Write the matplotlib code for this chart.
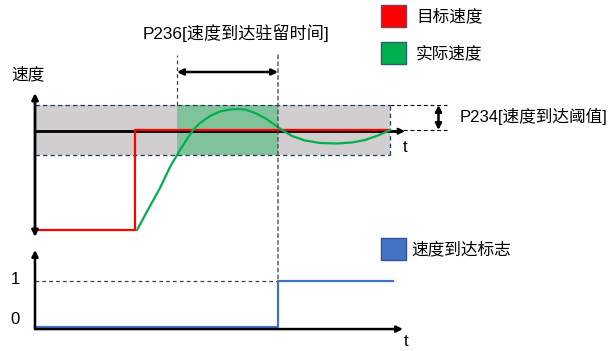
import matplotlib
matplotlib.use("Agg")
import matplotlib.pyplot as plt
import matplotlib.transforms as mtransforms
from matplotlib.patches import Rectangle, ConnectionPatch

plt.rcParams['font.family'] = ['Liberation Sans', 'Noto Sans CJK SC', 'DejaVu Sans']

# ---------------- data ----------------
# target speed (step command)
target_t = [0.0, 10.0, 10.0, 35.5]
target_v = [0.0, 0.0, 1.0, 1.0]

# actual speed response
actual_t = [10.2, 11.5, 12.5, 13.5, 14.5, 15.2, 15.8, 16.5, 17.5, 18.5, 19.5,
            20.2, 21.0, 22.0, 23.0, 24.0, 24.7, 25.7, 27.0, 28.5, 30.2, 31.7,
            33.0, 34.3, 35.5]
actual_v = [0.00, 0.24, 0.42, 0.63, 0.80, 0.91, 1.00, 1.07, 1.14, 1.185, 1.205,
            1.21, 1.205, 1.17, 1.12, 1.05, 1.00, 0.94, 0.895, 0.87, 0.865, 0.875,
            0.90, 0.945, 1.00]

target_speed = 1.0
threshold = 0.25          # P234 speed-reached threshold
dwell_start = 14.2        # entering the threshold band
dwell_end = 24.3          # after P236 dwell time
band_end = 35.5

# speed-reached flag
flag_t = [0.0, 24.3, 24.3, 35.8]
flag_v = [0, 0, 1, 1]
flag_ticks = [0, 1]

legend_labels = ['目标速度', '实际速度', '速度到达标志']
axis_label = '速度'
dwell_label = 'P236[速度到达驻留时间]'
threshold_label = 'P234[速度到达阈值]'

# ---------------- style ----------------
RED = '#FF0000'
GREEN = '#00B050'
BLUE = '#4472C4'
GRAY_BAND = '#D0CECE'
GREEN_BAND = '#80C39B'
NAVY_DASH = '#203864'
DASH_GRAY = '#404040'
FS = 12

W, H = 611, 351
fig = plt.figure(figsize=(W / 100, H / 100), dpi=100)

# top panel: x_px = 35 + 10 t, y_px = 230 - 100 v
ax = fig.add_axes([0, 0, 1, 1])
ax.set_xlim(-3.5, (W - 35) / 10)
ax.set_ylim((230 - H) / 100, 230 / 100)
# bottom panel: same time scale, y_px = 327 - 46 f
axb = fig.add_axes([0, 0, 1, 1])
axb.set_xlim(-3.5, (W - 35) / 10)
axb.set_ylim((327 - H) / 46, 327 / 46)
for a in (ax, axb):
    a.axis('off')
    a.patch.set_alpha(0)


def px(x, y):
    return x / W, 1 - y / H


def arrow(a, start, tip, style='-|>', lw=1.8, ms=10, color='k', z=5):
    a.annotate('', xy=tip, xytext=start,
               arrowprops=dict(arrowstyle=style, lw=lw, color=color,
                               mutation_scale=ms, shrinkA=0, shrinkB=0),
               zorder=z)


band_lo = target_speed - threshold
band_hi = target_speed + threshold

# threshold band and dwell window
ax.add_patch(Rectangle((0, band_lo), band_end, band_hi - band_lo,
                       facecolor=GRAY_BAND, edgecolor='none', zorder=1))
ax.add_patch(Rectangle((dwell_start, band_lo), dwell_end - dwell_start,
                       band_hi - band_lo, facecolor=GREEN_BAND,
                       edgecolor='none', zorder=1.5))
dash = dict(color=NAVY_DASH, lw=0.9, linestyle=(0, (3.5, 2.5)), zorder=2)
ax.plot([0, band_end], [band_hi, band_hi], **dash)
ax.plot([0, band_end], [band_lo, band_lo], **dash)
ax.plot([band_end, band_end], [band_lo, band_hi], **dash)

# threshold extension lines and arrow
ext_end = 41.2
ax.plot([band_end, ext_end], [band_hi, band_hi], color='k', lw=0.8,
        linestyle=(0, (3.5, 2.5)), zorder=2)
ax.plot([band_end, ext_end], [target_speed, target_speed], color='k', lw=0.8,
        linestyle=(0, (3.5, 2.5)), zorder=2)
arrow(ax, (40.35, target_speed), (40.35, band_hi), style='<|-|>', lw=1.8, ms=9)

# dwell window markers
dwell_top = 1.75
ax.plot([dwell_start, dwell_start], [band_hi, dwell_top], color=DASH_GRAY,
        lw=0.9, linestyle=(0, (3, 2.5)), zorder=2)
con = ConnectionPatch(xyA=(dwell_end, dwell_top), coordsA=ax.transData,
                      xyB=(dwell_end, 1), coordsB=axb.transData,
                      color=DASH_GRAY, lw=0.9, linestyle=(0, (3, 2.5)), zorder=2)
fig.add_artist(con)
arrow(ax, (dwell_start, 1.58), (dwell_end, 1.58), style='<|-|>', lw=1.8, ms=9)

# speed axes (t axis drawn at target speed)
shift = mtransforms.offset_copy(ax.transData, fig=fig, x=0, y=-1.2, units='dots')
ax.plot([0, 36.3], [target_speed, target_speed], color='k', lw=2.0,
        transform=shift, zorder=3, solid_capstyle='butt')
arrow(ax, (36.0, target_speed - 0.012), (37.0, target_speed - 0.012), lw=1.5, ms=9)
arrow(ax, (0, -0.07), (0, 1.37), style='<|-|>', lw=2.0, ms=9)

# target and actual speed
ax.plot(target_t, target_v, color=RED, lw=1.6, zorder=4)
ax.plot(actual_t, actual_v, color=GREEN, lw=1.6, zorder=4,
        solid_joinstyle='round')

# flag panel
axb.plot([0, dwell_end], [1, 1], color=DASH_GRAY, lw=0.9,
         linestyle=(0, (3, 2.5)), zorder=2)
axb.plot(flag_t, flag_v, color=BLUE, lw=1.6, zorder=4)
arrow(axb, (0, -0.045), (0, 1.674), lw=1.8, ms=9)
arrow(axb, (0, -0.045), (36.8, -0.045), lw=1.8, ms=9)

# texts
fig.text(*px(28, 74), axis_label, fontsize=FS, ha='center', va='center')
fig.text(*px(143, 33), dwell_label, fontsize=12.3, ha='left', va='center')
fig.text(*px(460, 116), threshold_label, fontsize=FS, ha='left', va='center')
fig.text(*px(405, 148), 't', fontsize=FS, ha='center', va='center')
fig.text(*px(406, 342), 't', fontsize=FS, ha='center', va='center')
for f, y in zip(flag_ticks, [320, 279]):
    fig.text(*px(15, y), str(f), fontsize=FS, ha='center', va='center')

# legend boxes
legend_items = [(RED, '#7F3F5F', 5, legend_labels[0]),
                (GREEN, '#2F5F6F', 42, legend_labels[1]),
                (BLUE, '#2F5597', 238, legend_labels[2])]
for face, edge, ytop, label in legend_items:
    x0, y0 = px(381, ytop + 22)
    fig.add_artist(Rectangle((x0, y0), 25 / W, 22 / H, transform=fig.transFigure,
                             facecolor=face, edgecolor=edge, lw=1.0))
    tx = 416 if ytop < 200 else 411
    fig.text(*px(tx, ytop + 11), label, fontsize=FS, ha='left', va='center')

fig.savefig('out.png', dpi=100)
